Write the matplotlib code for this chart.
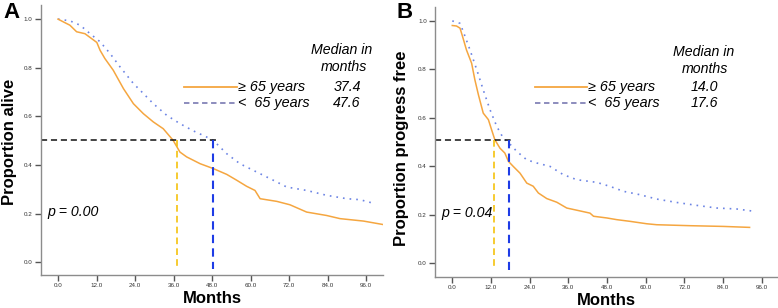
import matplotlib
matplotlib.use("Agg")
import matplotlib.pyplot as plt

# ---------------- data ----------------
# Panel A: overall survival
a_old_t = [0.0, 2.2, 3.7, 5.8, 8.4, 12.1, 13.1, 14.6, 17.2, 20.4, 23.5, 26.6, 29.7, 32.8,
           35.9, 38.0, 40.1, 44.3, 48.4, 52.6, 55.7, 58.8, 61.4, 63.0, 68.2, 72.3, 77.5,
           83.7, 87.9, 95.2, 101.2]
a_old_s = [1.0, 0.985, 0.975, 0.948, 0.94, 0.904, 0.872, 0.838, 0.79, 0.714, 0.652, 0.611,
           0.577, 0.549, 0.501, 0.453, 0.433, 0.405, 0.385, 0.361, 0.337, 0.312, 0.295, 0.261,
           0.25, 0.236, 0.206, 0.192, 0.179, 0.169, 0.155]
a_young_t = [0.0, 3.7, 6.9, 10.0, 13.1, 16.2, 19.3, 23.5, 26.6, 29.7, 33.9, 38.0, 42.2, 46.3,
             48.4, 52.6, 56.7, 61.9, 67.1, 71.3, 77.5, 83.7, 90.0, 94.1, 98.1]
a_young_s = [1.0, 0.993, 0.975, 0.94, 0.907, 0.859, 0.804, 0.735, 0.694, 0.652, 0.604, 0.57,
             0.54, 0.515, 0.501, 0.446, 0.405, 0.371, 0.337, 0.309, 0.295, 0.275, 0.261,
             0.257, 0.243]

# Panel B: progression-free survival
b_old_t = [0.0, 1.3, 2.4, 3.2, 4.4, 6.0, 7.0, 8.1, 9.6, 11.2, 12.2, 13.2, 14.8, 16.3, 17.4,
           18.9, 21.0, 23.1, 25.1, 26.7, 29.3, 32.4, 35.5, 38.6, 42.7, 43.8, 47.9, 51.0,
           55.1, 60.3, 63.4, 73.8, 84.1, 92.2]
b_old_s = [0.981, 0.979, 0.97, 0.935, 0.88, 0.825, 0.757, 0.695, 0.619, 0.592, 0.55, 0.509,
           0.474, 0.454, 0.42, 0.399, 0.371, 0.33, 0.317, 0.289, 0.266, 0.251, 0.227, 0.218,
           0.206, 0.193, 0.186, 0.179, 0.172, 0.162, 0.158, 0.154, 0.151, 0.147]
b_young_t = [0.0, 2.4, 3.4, 5.5, 7.6, 9.6, 11.7, 13.8, 15.8, 17.6, 20.0, 23.1, 26.2, 30.3,
             34.4, 38.6, 44.8, 49.0, 53.1, 58.2, 63.4, 69.6, 75.8, 82.0, 88.2, 93.9]
b_young_s = [1.0, 0.99, 0.956, 0.88, 0.798, 0.715, 0.633, 0.564, 0.516, 0.495, 0.461, 0.426,
             0.413, 0.399, 0.365, 0.344, 0.333, 0.316, 0.296, 0.282, 0.264, 0.25, 0.238,
             0.227, 0.223, 0.213]

panel_letters = ["A", "B"]
y_labels = ["Proportion alive", "Proportion progress free"]
group_labels = ["\u2265 65 years", "<  65 years"]
median_texts_a = ["37.4", "47.6"]
median_texts_b = ["14.0", "17.6"]
p_texts = ["p = 0.00", "p = 0.04"]
median_lines_a = [37.2, 48.4]   # drawn positions
median_lines_b = [13.0, 17.6]
median_level_a = 0.504
median_level_b = 0.509
xticks = [0, 12, 24, 36, 48, 60, 72, 84, 96]
yticks = [0.0, 0.2, 0.4, 0.6, 0.8, 1.0]

# ---------------- style ----------------
plt.rcParams['font.family'] = ['Liberation Sans', 'DejaVu Sans']
ORANGE = "#F5A640"
BLUE_DOT = "#6C84E4"
LEG_DASH = "#8484B8"
YELLOW = "#F5C20E"
BLUE_MED = "#1E3CE6"
SPINE = "#8C8C8C"

fig = plt.figure(figsize=(7.78, 3.08), dpi=100)
axA = fig.add_axes([0.0527, 0.1071, 0.4396, 0.8766])
axB = fig.add_axes([0.5595, 0.1006, 0.4388, 0.8771])


def style_axes(ax, xlim, ylim, ylabel, ylab_xy):
    ax.set_xlim(*xlim)
    ax.set_ylim(*ylim)
    for s in ["top", "right"]:
        ax.spines[s].set_visible(False)
    for s in ["left", "bottom"]:
        ax.spines[s].set_color(SPINE)
        ax.spines[s].set_linewidth(1.0)
    ax.set_xticks(xticks)
    ax.set_xticklabels([f"{v:.1f}" for v in xticks])
    ax.set_yticks(yticks)
    ax.set_yticklabels([f"{v:.1f}" for v in yticks])
    ax.tick_params(axis="both", direction="out", length=4, width=1.0, color="#555555",
                   labelsize=4.5, labelcolor="#333333", pad=2)
    ax.set_xlabel("Months", fontsize=12, fontweight="bold", labelpad=2)
    ax.set_ylabel(ylabel, fontsize=12, fontweight="bold", va="center")
    ax.yaxis.set_label_coords(*ylab_xy)


def draw_panel(ax, old_t, old_s, young_t, young_s, med_lines, med_level,
               xlim, ylim, ylabel, ylab_xy, med_texts, ptxt,
               leg_x0, leg_x1, leg_y, med_x, txt_x):
    style_axes(ax, xlim, ylim, ylabel, ylab_xy)
    ax.plot(young_t, young_s, color=BLUE_DOT, lw=1.2, linestyle=(0, (1, 3)))
    ax.plot(old_t, old_s, color=ORANGE, lw=1.1)
    # median guide lines
    ax.plot([xlim[0], med_lines[1] + 1.2], [med_level, med_level], color="#111111",
            lw=1.1, linestyle=(0, (4, 2.5)))
    ax.plot([med_lines[0], med_lines[0]], [med_level, -0.03], color=YELLOW, lw=1.2,
            linestyle=(0, (4, 2.5)))
    ax.plot([med_lines[1], med_lines[1]], [med_level, -0.03], color=BLUE_MED, lw=1.5,
            linestyle=(0, (4, 2.5)))
    # legend lines and text
    ax.plot([leg_x0, leg_x1], [leg_y[0], leg_y[0]], color=ORANGE, lw=1.3)
    ax.plot([leg_x0, leg_x1], [leg_y[1], leg_y[1]], color=LEG_DASH, lw=1.3,
            linestyle=(0, (3, 2)))
    for lab, y in zip(group_labels, leg_y):
        ax.text(leg_x1 + 0.2, y, lab, fontsize=10.4, style="italic", ha="left", va="center")
    ax.text(med_x, 0.872, "Median in", fontsize=10.2, style="italic", ha="center", va="center")
    ax.text(med_x + 0.5, 0.802, "months", fontsize=10.2, style="italic", ha="center", va="center")
    for t, y in zip(med_texts, leg_y):
        ax.text(txt_x, y, t, fontsize=10.2, style="italic", ha="center", va="center")
    ax.text(xlim[0] + 1.9, 0.208, ptxt, fontsize=10.2, style="italic", ha="left", va="center")


draw_panel(axA, a_old_t, a_old_s, a_young_t, a_young_s, median_lines_a, median_level_a,
           (-5.3, 101.3), (-0.053, 1.058), y_labels[0], (-0.091, 0.493), median_texts_a,
           p_texts[0], 39.3, 55.8, (0.72, 0.654), 88.5, 90.1)
draw_panel(axB, b_old_t, b_old_s, b_young_t, b_young_s, median_lines_b, median_level_b,
           (-5.27, 100.6), (-0.058, 1.058), y_labels[1], (-0.099, 0.478), median_texts_b,
           p_texts[1], 25.6, 41.8, (0.727, 0.661), 77.8, 78.2)

fig.text(0.004, 0.995, panel_letters[0], fontsize=16, fontweight="bold", ha="left", va="top")
fig.text(0.509, 0.995, panel_letters[1], fontsize=16, fontweight="bold", ha="left", va="top")

fig.savefig("out.png", dpi=100)
